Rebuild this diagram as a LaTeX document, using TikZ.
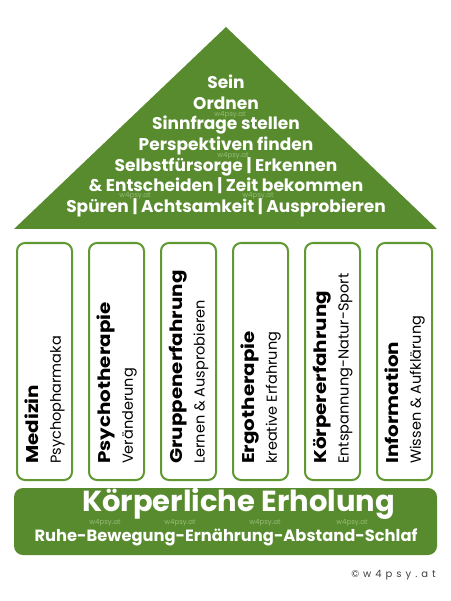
\documentclass[tikz,border=0pt]{standalone}
\usepackage{fontspec}
\setmainfont{Poppins}
\definecolor{housegreen}{RGB}{88,139,46}
\definecolor{pillargreen}{RGB}{96,152,50}
\definecolor{markgreen}{RGB}{150,188,118}
\begin{document}
\begin{tikzpicture}[x=1pt, y=-1pt,
		pillar/.style={draw=pillargreen, line width=2pt, rounded corners=8pt,
			fill=white, minimum width=55pt, minimum height=237pt, inner sep=0pt},
		pillar text/.style={rotate=90, anchor=north west, align=left, inner sep=0pt,
			font=\fontsize{15}{22}\selectfont},
		roof text/.style={text=white, align=center,
			font=\bfseries\fontsize{17}{20.6}\selectfont},
		watermark/.style={text=markgreen, font=\fontsize{7}{8}\selectfont, inner sep=0pt}
		]
	\useasboundingbox (0,0) rectangle (450,601);
	% roof
	\fill[housegreen] (14,229) coordinate (roofL) -- (226,27) coordinate (roofT)
		-- (437,229) coordinate (roofR) -- cycle;
	\node [watermark] (m1) at (230,115) {w4psy.at};
	\node [watermark] (m2) at (233,156) {w4psy.at};
	\node [watermark] (m3) at (135,196) {w4psy.at};
	\node [watermark] (m4) at (258,196) {w4psy.at};
	\node [roof text] (roof) at (226,146) {Sein\\ Ordnen\\ Sinnfrage stellen\\
		Perspektiven finden\\ Selbstfürsorge | Erkennen\\
		\& Entscheiden | Zeit bekommen\\ Spüren | Achtsamkeit | Ausprobieren};
	% pillars
	\foreach \i/\title/\sub in {0/Medizin/Psychopharmaka,
			1/Psychotherapie/Veränderung,
			2/Gruppenerfahrung/Lernen \& Ausprobieren,
			3/Ergotherapie/kreative Erfahrung,
			4/Körpererfahrung/Entspannung-Natur-Sport,
			5/Information/Wissen \& Aufklärung} {
		\node [pillar] (p\i) at (44.5+72*\i,361.5) {};
		\node [pillar text] (t\i) at (25+72*\i,464)
			{{\bfseries\fontsize{17}{22}\selectfont \scalebox{1.17}[1]{\title}}\\
			 {\fontsize{14.5}{22}\selectfont \sub}};
	}
	% base
	\node [fill=housegreen, rounded corners=9pt, minimum width=423pt,
		minimum height=67pt] (base) at (225.5,521.5) {};
	\foreach \x [count=\n] in {105,180,265,352}
		\node [watermark] (bm\n) at (\x,523) {w4psy.at};
	\node [text=white, font=\bfseries\fontsize{29}{30}\selectfont] (body)
		at (238.5,504) {Körperliche Erholung};
	\node [text=white, font=\bfseries\fontsize{16.3}{18}\selectfont] (rest)
		at (226,537) {Ruhe-Bewegung-Ernährung-Abstand-Schlaf};
	% copyright
	\node [anchor=east, text=black!75, inner sep=0pt,
		font=\addfontfeatures{LetterSpace=40}\fontsize{10}{11}\selectfont] (copy)
		at (436,575) {©w4psy.at};
\end{tikzpicture}
\end{document}
